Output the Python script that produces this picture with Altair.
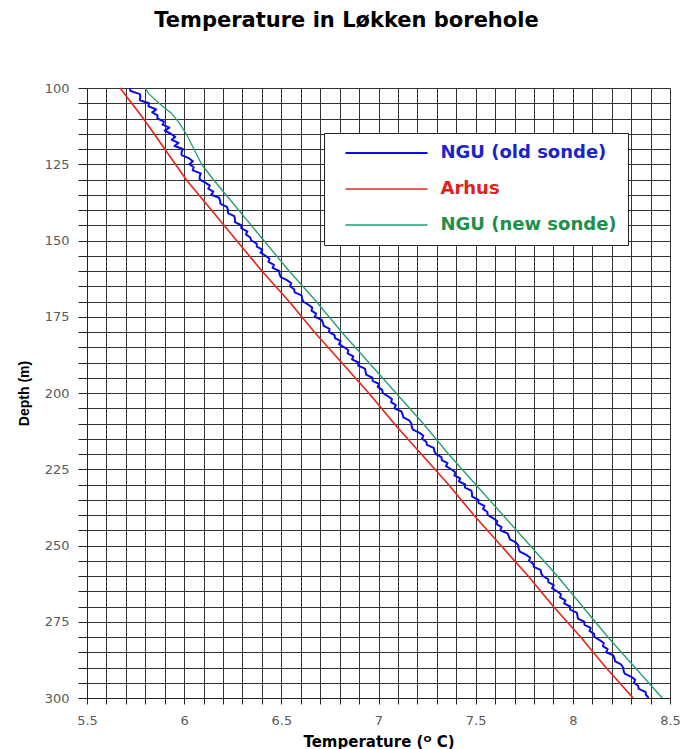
import altair as alt
import pandas as pd

# Series names, line colours and widths
series_names = ["NGU (old sonde)", "Arhus", "NGU (new sonde)"]
line_colors = ["#0b0be8", "#e8261c", "#1f9f70"]
line_widths = [2.0, 1.3, 1.2]

# Arhus log (depth in m, temperature in deg C)
arhus_depth = [100, 110, 120, 130, 140, 150, 160, 170, 180, 190, 200,
               210, 220, 230, 240, 250, 260, 270, 280, 290, 300]
arhus_temp = [5.67, 5.79, 5.90, 6.01, 6.14, 6.27, 6.40, 6.54, 6.67, 6.81, 6.95,
              7.08, 7.22, 7.36, 7.49, 7.63, 7.77, 7.90, 8.04, 8.17, 8.31]

# NGU new sonde log
new_depth = [100, 102, 105, 108, 111, 115, 120, 125, 130, 140, 150, 160, 170,
             180, 190, 200, 210, 220, 230, 240, 250, 260, 270, 280, 290, 300]
new_temp = [5.80, 5.82, 5.87, 5.93, 5.97, 6.01, 6.05, 6.09, 6.15, 6.28, 6.41,
            6.54, 6.68, 6.81, 6.95, 7.09, 7.23, 7.36, 7.50, 7.64, 7.78, 7.92,
            8.05, 8.18, 8.32, 8.46]

# NGU old sonde log, every metre from 100 m to 300 m
old_depth = list(range(100, 301))
old_temp = [
    5.720, 5.724, 5.773, 5.774, 5.772, 5.819, 5.816, 5.856, 5.836, 5.863,
    5.862, 5.897, 5.889, 5.924, 5.900, 5.931, 5.954, 5.936, 5.971, 5.950,
    5.993, 5.987, 5.987, 6.023, 6.045, 6.027, 6.049, 6.044, 6.085, 6.080,
    6.080, 6.109, 6.132, 6.124, 6.150, 6.139, 6.180, 6.185, 6.187, 6.220,
    6.226, 6.225, 6.258, 6.261, 6.262, 6.294, 6.294, 6.325, 6.318, 6.340,
    6.345, 6.373, 6.374, 6.402, 6.393, 6.419, 6.439, 6.434, 6.462, 6.455,
    6.489, 6.491, 6.497, 6.529, 6.551, 6.544, 6.566, 6.569, 6.604, 6.607,
    6.612, 6.638, 6.659, 6.655, 6.679, 6.672, 6.708, 6.714, 6.718, 6.748,
    6.745, 6.774, 6.776, 6.805, 6.797, 6.824, 6.845, 6.841, 6.870, 6.864,
    6.896, 6.896, 6.930, 6.934, 6.936, 6.969, 6.970, 7.002, 6.996, 7.019,
    7.022, 7.048, 7.069, 7.065, 7.089, 7.082, 7.118, 7.124, 7.128, 7.158,
    7.169, 7.171, 7.177, 7.209, 7.231, 7.224, 7.246, 7.249, 7.284, 7.287,
    7.295, 7.324, 7.326, 7.355, 7.347, 7.374, 7.395, 7.391, 7.420, 7.414,
    7.446, 7.445, 7.478, 7.481, 7.482, 7.514, 7.514, 7.545, 7.538, 7.560,
    7.562, 7.589, 7.611, 7.608, 7.633, 7.627, 7.664, 7.671, 7.676, 7.707,
    7.719, 7.721, 7.727, 7.759, 7.781, 7.774, 7.796, 7.799, 7.834, 7.837,
    7.845, 7.873, 7.874, 7.902, 7.893, 7.919, 7.939, 7.934, 7.962, 7.955,
    7.986, 7.986, 8.020, 8.024, 8.026, 8.059, 8.060, 8.092, 8.086, 8.109,
    8.112, 8.138, 8.159, 8.155, 8.179, 8.172, 8.208, 8.214, 8.218, 8.248,
    8.259, 8.261, 8.267, 8.299, 8.321, 8.314, 8.336, 8.339, 8.374, 8.377,
    8.390,
]

# Gridline / tick positions
x_ticks = [round(5.5 + 0.1 * i, 1) for i in range(31)]
y_ticks = list(range(100, 301, 5))

rows = []
for name, depths, temps in [
    (series_names[0], old_depth, old_temp),
    (series_names[1], arhus_depth, arhus_temp),
    (series_names[2], new_depth, new_temp),
]:
    for d, t in zip(depths, temps):
        rows.append({"series": name, "depth": d, "temp": t})
df = pd.DataFrame(rows)

label_color_expr = (
    "datum.label == 'Arhus' ? '#e02020' : "
    "(datum.label == 'NGU (old sonde)' ? '#1a24c8' : '#1d9048')"
)

chart = (
    alt.Chart(df)
    .mark_line(strokeJoin="round")
    .encode(
        x=alt.X(
            "temp:Q",
            scale=alt.Scale(domain=[5.5, 8.5], nice=False, zero=False),
            axis=alt.Axis(
                values=x_ticks,
                grid=True,
                gridColor="#333333",
                gridWidth=1,
                tickColor="#222222",
                tickSize=6,
                domainColor="#222222",
                labelExpr="abs(datum.value*2 - round(datum.value*2)) < 0.000001 ? format(datum.value, '~g') : ''",
                labelFont="DejaVu Sans",
                labelFontSize=13,
                labelColor="#5a5a5a",
                labelPadding=10,
                labelFlush=False,
                labelOverlap=False,
                title="Temperature (ᴼ C)",
                titleFont="DejaVu Sans",
                titleFontSize=15,
                titleFontWeight="bold",
                titleColor="black",
                titlePadding=7,
            ),
        ),
        y=alt.Y(
            "depth:Q",
            scale=alt.Scale(domain=[100, 300], reverse=True, nice=False, zero=False),
            axis=alt.Axis(
                values=y_ticks,
                grid=True,
                gridColor="#333333",
                gridWidth=1,
                tickColor="#222222",
                tickSize=9,
                domainColor="#222222",
                labelExpr="datum.value % 25 == 0 ? datum.label : ''",
                labelFont="DejaVu Sans",
                labelFontSize=13,
                labelColor="#5a5a5a",
                labelPadding=9,
                labelOverlap=False,
                title="Depth (m)",
                titleFont="Liberation Sans",
                titleFontSize=14,
                titleFontWeight="bold",
                titleColor="black",
                titlePadding=13,
            ),
        ),
        color=alt.Color(
            "series:N",
            scale=alt.Scale(domain=series_names, range=line_colors),
            legend=alt.Legend(
                title=None,
                orient="none",
                legendX=237,
                legendY=45,
                direction="vertical",
                symbolType="M-5.47,0L5.47,0",
                symbolSize=225,
                symbolStrokeWidth=1.6,
                symbolOffset=42.5,
                labelOffset=45,
                labelFont="DejaVu Sans",
                labelFontSize=18,
                labelFontWeight="bold",
                labelColor={"expr": label_color_expr},
                labelLimit=400,
                rowPadding=18,
                padding=11,
                fillColor="white",
                strokeColor="#222222",
            ),
        ),
        strokeWidth=alt.StrokeWidth(
            "series:N",
            scale=alt.Scale(domain=series_names, range=line_widths),
            legend=None,
        ),
        order=alt.Order("depth:Q"),
    )
    .properties(
        width=583,
        height=610,
        autosize=alt.AutoSizeParams(type="none"),
        padding={"left": 87, "top": 88, "right": 22, "bottom": 51},
        title=alt.TitleParams(
            text="Temperature in Løkken borehole",
            font="DejaVu Sans",
            fontSize=21,
            fontWeight="bold",
            color="black",
            anchor="middle",
            frame="group",
            baseline="alphabetic",
            offset=34,
            dx=-32,
        ),
    )
    .configure_view(stroke="#222222", strokeWidth=1)
    .configure(background="white")
)

chart.save("out.html", embed_options={"renderer": "svg", "actions": False})
